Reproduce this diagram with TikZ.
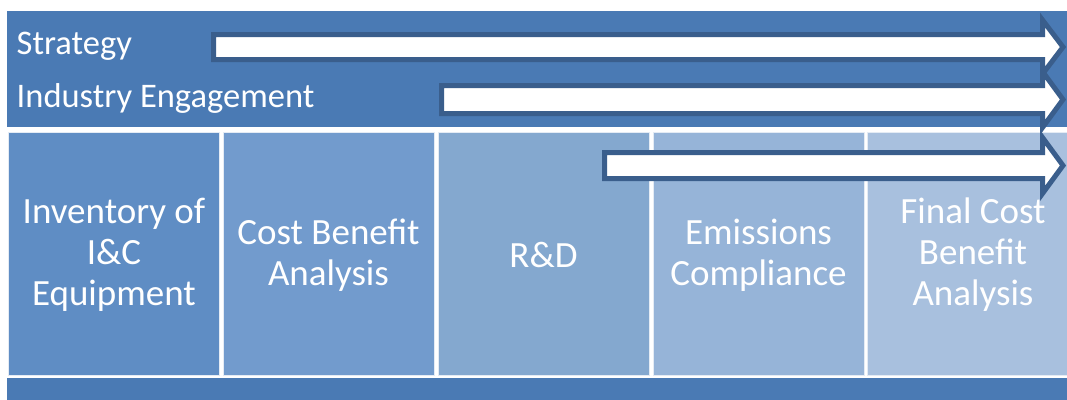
\documentclass[tikz,border=0pt]{standalone}
\usepackage{fontspec}
\setmainfont{Carlito}
\definecolor{band}{HTML}{4A7AB4}
\definecolor{cA}{HTML}{5F8DC4}
\definecolor{cB}{HTML}{729BCD}
\definecolor{cC}{HTML}{84A8CF}
\definecolor{cD}{HTML}{96B4D8}
\definecolor{cE}{HTML}{A8C0DE}
\definecolor{arrowedge}{HTML}{3A5E8C}
\tikzset{
  bandbox/.style={fill=band, draw=none},
  colbox/.style={draw=white!85!band, line width=1pt},
  coltext/.style={text=white, align=center, font=\fontsize{37}{41}\selectfont, inner sep=0pt},
  toplabel/.style={text=white, font=\fontsize{34.5}{41}\selectfont, inner sep=0pt, anchor=base west},
  bigarrow/.style={fill=white, draw=arrowedge, line width=5pt, miter limit=10}
}
\begin{document}
\begin{tikzpicture}[x=1pt,y=-1pt]
\useasboundingbox (0,0) rectangle (1067,399);
\clip (0,0) rectangle (1067,399);
% top band
\fill[bandbox] (7,11) rectangle (1080,127);
% columns
\filldraw[colbox, fill=cA] (8.5,132) rectangle (219.5,375.5);
\filldraw[colbox, fill=cB] (223.5,132) rectangle (434,375.5);
\filldraw[colbox, fill=cC] (438.5,132) rectangle (649,375.5);
\filldraw[colbox, fill=cD] (653.5,132) rectangle (864,375.5);
\filldraw[colbox, fill=cE] (867.5,132) rectangle (1080,375.5);
% bottom band
\fill[bandbox] (7,378) rectangle (1080,405);
% labels
\node[toplabel] (strategy) at (16.5,54) {Strategy};
\node[toplabel] (industry) at (16.5,107) {Industry Engagement};
\node[coltext] (inv) at (114,255) {Inventory of\\I\&C\\Equipment};
\node[coltext] (cba) at (328.5,255) {Cost Benefit\\Analysis};
\node[coltext] (rd) at (543.5,255) {R\&D};
\node[coltext] (emi) at (758.5,255) {Emissions\\Compliance};
\node[coltext] (fcba) at (973,255) {Final Cost\\Benefit\\Analysis};
% arrows
\draw[bigarrow] (213.5,34.5) -- (1042.5,34.5) -- (1042.5,20) -- (1063,47) -- (1042.5,74) -- (1042.5,59.5) -- (213.5,59.5) -- cycle;
\draw[bigarrow] (441.5,85.5) -- (1042.5,85.5) -- (1042.5,71.5) -- (1063,99.5) -- (1042.5,127.5) -- (1042.5,113.5) -- (441.5,113.5) -- cycle;
\draw[bigarrow] (604.5,152.5) -- (1042.5,152.5) -- (1042.5,137.5) -- (1063,165.5) -- (1042.5,193.5) -- (1042.5,178.5) -- (604.5,178.5) -- cycle;
\end{tikzpicture}
\end{document}
